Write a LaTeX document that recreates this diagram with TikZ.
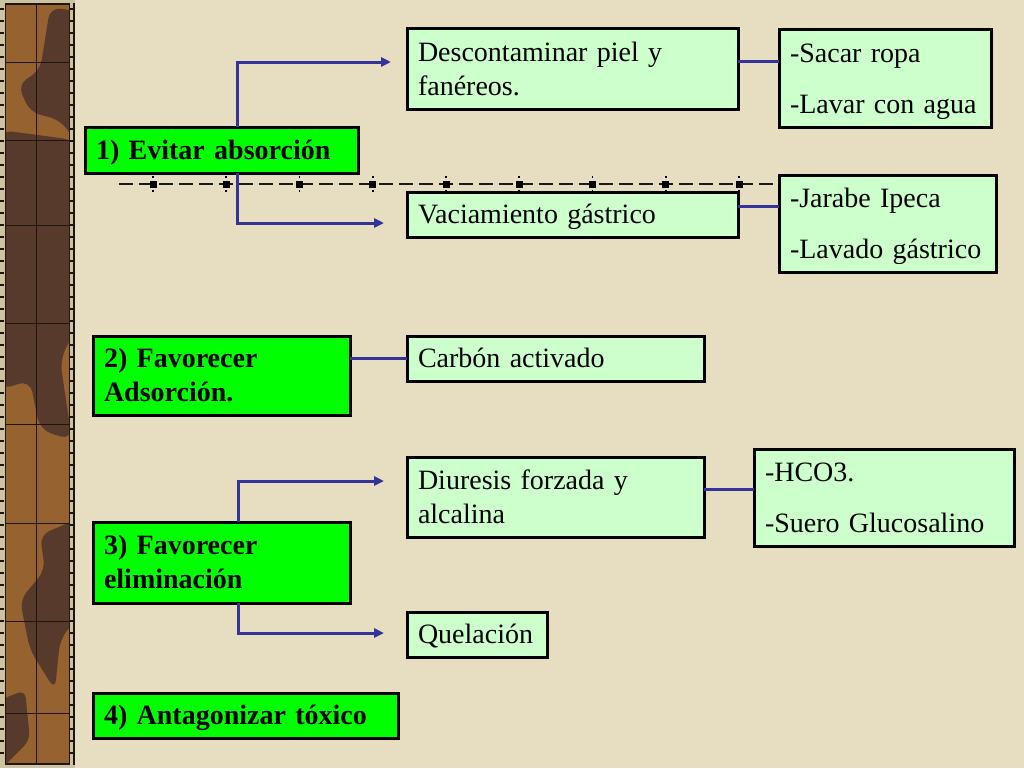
\documentclass[tikz,border=0pt]{standalone}
\usepackage{fontspec}
\setmainfont{Liberation Serif}
\usetikzlibrary{arrows.meta}
\definecolor{parch}{RGB}{231,221,192}
\definecolor{woodA}{RGB}{150,98,48}
\definecolor{woodB}{RGB}{88,58,44}
\definecolor{woodline}{RGB}{30,22,14}
\definecolor{woodband}{RGB}{205,195,160}
\definecolor{boxgreen}{RGB}{0,255,0}
\definecolor{paleg}{RGB}{204,255,204}
\definecolor{navy}{RGB}{51,51,153}
\begin{document}
\begin{tikzpicture}[x=1pt,y=-1pt,
 bx/.style={draw=black,line width=3pt,anchor=north west,outer sep=0pt,inner xsep=11pt,inner ysep=0pt,align=left,font=\fontsize{28}{34}\selectfont,
   execute at begin node={\rule{0pt}{28.8pt}}, execute at end node={\rule[-10.2pt]{0pt}{10.2pt}}},
 gbox/.style={bx,fill=boxgreen,font=\fontsize{28}{34}\selectfont\bfseries},
 lbox/.style={bx,fill=paleg},
 conn/.style={draw=navy,line width=3pt},
 arr/.style={conn,-{Triangle[length=10pt,width=9pt]}},
 sepline/.style={draw=black!90,line width=2pt,dash pattern=on 14pt off 6pt},
 grid/.style={draw=woodline,line width=1pt}
]
\useasboundingbox (0,0) rectangle (1024,768);
\fill[parch] (0,0) rectangle (1024,768);
% ---- wooden strip ----
\fill[woodline] (0,0) rectangle (75,768);
\fill[woodband] (0,0) rectangle (5,768);
\fill[woodband] (70,0) rectangle (73,768);
\fill[woodband] (0,0) rectangle (75,3);
\fill[woodband] (0,765) rectangle (75,768);
\foreach \t in {8,20,...,760} {
  \fill[woodline] (0,\t) rectangle (4,\t+2);
  \fill[woodline] (70,\t) rectangle (73,\t+2);
}
\fill[woodA] (6,5) rectangle (69,763);
\begin{scope}
  \clip (6,5) rectangle (69,763);
  \fill[woodB,rounded corners=10pt] (50,8) -- (75,10) -- (75,140) -- (60,120) -- (30,112) -- (18,85) -- (40,70) -- (45,40) -- cycle;
  \fill[woodB,rounded corners=12pt] (0,130) -- (75,140) -- (75,330) -- (60,360) -- (72,440) -- (40,430) -- (30,380) -- (0,390) -- cycle;
  \fill[woodB,rounded corners=10pt] (75,520) -- (40,535) -- (45,570) -- (20,600) -- (30,650) -- (55,690) -- (60,640) -- (75,620) -- cycle;
  \fill[woodB,rounded corners=8pt] (0,700) -- (25,690) -- (30,740) -- (0,770) -- cycle;
\end{scope}
\draw[grid] (36,5) -- (36,763);
\foreach \h in {62,140,225,323,424,523,621,713} {\draw[grid] (6,\h) -- (69,\h);}

% ---- boxes ----
\node[gbox,text width=251pt,minimum height=46pt] (ev) at (85,127) {1) Evitar absorción};
\node[lbox,text width=309pt,minimum height=80pt] (desc) at (407,29) {Descontaminar piel y\\fanéreos.};
\node[lbox,text width=190pt,minimum height=97pt] (sacar) at (779,30) {-Sacar ropa\\[17pt]-Lavar con agua};
\node[lbox,text width=309pt,minimum height=45pt] (vac) at (407,192) {Vaciamiento gástrico};
\node[lbox,text width=195pt,minimum height=97pt] (jar) at (779,175) {-Jarabe Ipeca\\[17pt]-Lavado gástrico};
\node[gbox,text width=235pt,minimum height=79pt] (fa) at (93,336) {2) Favorecer\\Adsorción.};
\node[lbox,text width=275pt,minimum height=45pt] (carb) at (407,336) {Carbón activado};
\node[gbox,text width=235pt,minimum height=81pt] (fe) at (93,522) {3) Favorecer\\eliminación};
\node[lbox,text width=275pt,minimum height=80pt] (diu) at (407,457) {Diuresis forzada y\\alcalina};
\node[lbox,text width=238pt,minimum height=97pt] (hco) at (754,449) {-HCO3.\\[17pt]-Suero Glucosalino};
\node[lbox,text width=118pt,minimum height=45pt] (que) at (407,612) {Quelación};
\node[gbox,text width=283pt,minimum height=45pt] (ant) at (93,693) {4) Antagonizar tóxico};

% ---- connectors ----
\coordinate (j1) at (237,0);
\coordinate (j2) at (238,0);
\coordinate (t1) at (391,62);
\coordinate (t2) at (384,223);
\coordinate (t3) at (384,481);
\coordinate (t4) at (384,633);
\coordinate (y1) at (0,61);
\coordinate (y2) at (0,206);
\coordinate (y3) at (0,489);
\draw[arr] (ev.north -| j1) |- (t1);
\draw[arr] (ev.south -| j1) |- (t2);
\draw[conn] (desc.east |- y1) -- (sacar.west |- y1);
\draw[conn] (vac.east |- y2) -- (jar.west |- y2);
\draw[conn] (fa.east |- carb.west) -- (carb.west);
\draw[conn] (diu.east |- y3) -- (hco.west |- y3);
\draw[arr] (fe.north -| j2) |- (t3);
\draw[arr] (fe.south -| j2) |- (t4);

% ---- dashed separator with markers ----
\draw[sepline] (119,184) -- (775,184);
\foreach \k in {0,...,8} {
  \pgfmathsetmacro\mx{153+73.25*\k}
  \fill[black] (\mx-3.5,180.5) rectangle (\mx+3.5,187.5);
  \fill[black] (\mx-0.8,176) rectangle (\mx+0.8,178);
  \fill[black] (\mx-0.8,190) rectangle (\mx+0.8,192);
}
\end{tikzpicture}
\end{document}
